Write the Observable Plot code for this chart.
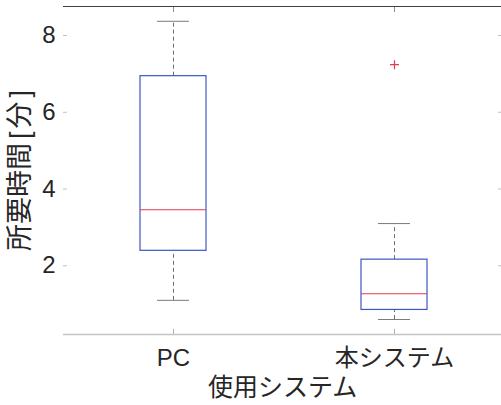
<!DOCTYPE html>
<html><head><meta charset="utf-8">
<script src="https://cdn.jsdelivr.net/npm/d3@7"></script>
<script src="https://cdn.jsdelivr.net/npm/@observablehq/plot@0.6"></script>
<style>body{margin:0;background:#fff}#chart svg{display:block}</style>
</head><body><div id="chart"></div>
<script>
const categories = ["PC", "本システム"];
const whiskerLow = [1.10, 0.60];
const q1 = [2.39, 0.85];
const median = [3.46, 1.27];
const q3 = [6.94, 2.16];
const whiskerHigh = [8.37, 3.10];
const outlierSystems = ["本システム"];
const outlierValues = [7.24];
const yTicks = [2, 4, 6, 8];
const yDomain = [0.21, 8.755];
const xLabel = "使用システム";
const yLabel = "所要時間[分]";

const boxes = categories.map((c, i) => ({system: c, lo: whiskerLow[i], q1: q1[i], med: median[i], q3: q3[i], hi: whiskerHigh[i]}));
const outliers = outlierSystems.map((s, i) => ({system: s, value: outlierValues[i]}));

const W = 501, H = 405;
const font = "'Liberation Sans', 'Noto Sans CJK JP', sans-serif";
const blank = () => "";

const chart = Plot.plot({
  width: W, height: H,
  marginLeft: 63, marginRight: 0, marginTop: 6, marginBottom: 71,
  style: {fontSize: "24px", fontFamily: font, color: "#262626", background: "white", overflow: "visible"},
  x: {type: "band", domain: categories, range: [62.5, 504.5], paddingInner: 0.7, paddingOuter: 0.35},
  y: {domain: yDomain},
  marks: [
    Plot.ruleY([yDomain[1]], {stroke: "#404040", strokeWidth: 1.2}),
    Plot.ruleY([yDomain[0]], {stroke: "#c4c4c4", strokeWidth: 1.5}),
    Plot.axisY({ticks: yTicks, tickSize: 0, tickPadding: 8, line: true, stroke: "#6a6a6a", label: null}),
    Plot.axisY({ticks: yTicks, tickSize: -4, tickFormat: blank, stroke: "#c0c0c0", label: null}),
    Plot.axisY({ticks: yTicks, anchor: "right", tickSize: -4, tickFormat: blank, stroke: "#c0c0c0", label: null}),
    Plot.axisX({anchor: "bottom", tickSize: 0, tickPadding: 14, label: null}),
    Plot.axisX({anchor: "bottom", tickSize: -5, tickFormat: blank, stroke: "#b0b0b0", label: null}),
    Plot.axisX({anchor: "top", tickSize: -5, tickFormat: blank, stroke: "#909090", label: null}),
    Plot.ruleX(boxes, {x: "system", y1: "q3", y2: "hi", stroke: "#6e6e6e", strokeDasharray: "4,3"}),
    Plot.ruleX(boxes, {x: "system", y1: "lo", y2: "q1", stroke: "#6e6e6e", strokeDasharray: "4,3"}),
    Plot.tickY(boxes, {x: "system", y: "hi", stroke: "#7a7a7a", inset: 17}),
    Plot.tickY(boxes, {x: "system", y: "lo", stroke: "#7a7a7a", inset: 17}),
    Plot.barY(boxes, {x: "system", y1: "q1", y2: "q3", fill: "white", stroke: "#3d57c2", strokeWidth: 1.2}),
    Plot.tickY(boxes, {x: "system", y: "med", stroke: "#e63a4c", strokeWidth: 1.1}),
    Plot.dot(outliers, {x: "system", y: "value", symbol: "plus", r: 3, stroke: "#e63a4c", strokeWidth: 1.2}),
    Plot.text([xLabel], {text: d => d, frameAnchor: "bottom", dy: 53, lineAnchor: "middle", textAnchor: "middle", fontSize: 25, fill: "#262626"}),
    Plot.text([yLabel], {text: d => d, frameAnchor: "left", dx: -43, rotate: -90, lineAnchor: "middle", textAnchor: "middle", fontSize: 27, fill: "#262626"})
  ]
});
// widen the spacing around the brackets of the y label, as in the reference
for (const t of chart.querySelectorAll("text")) {
  if (t.textContent === yLabel) t.setAttribute("dx", "0 0 0 0 4 3 4");
}
document.getElementById("chart").append(chart);
</script>
</body></html>
